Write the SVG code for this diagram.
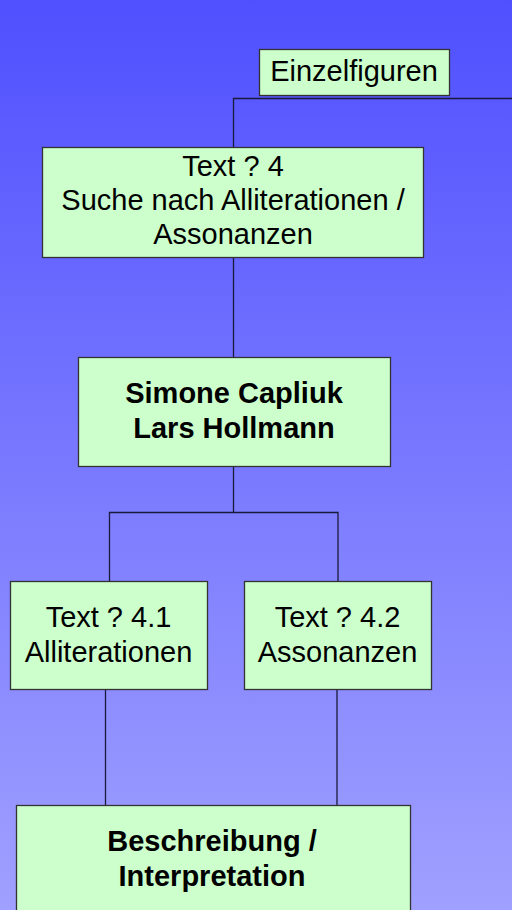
<svg xmlns="http://www.w3.org/2000/svg" width="512" height="910" viewBox="0 0 512 910">
<defs>
<linearGradient id="bg" x1="0" y1="0" x2="0" y2="1">
<stop offset="0" stop-color="#5050FF"/>
<stop offset="1" stop-color="#A0A0FF"/>
</linearGradient>
<style>
.box{fill:#CCFFCC;stroke:#333333;stroke-width:1.3}
.t{font-family:"Liberation Sans",Arial,sans-serif;font-size:29px;fill:#000;text-anchor:middle}
.b{font-weight:bold}
.c{fill:none;stroke:#1a1a3a;stroke-width:1.3}
</style>
</defs>
<rect width="512" height="910" fill="url(#bg)"/>
<g id="connectors">
<path class="c" d="M233.5 147 V98.5 H513"/>
<path class="c" d="M233.5 257 V357"/>
<path class="c" d="M233.5 466 V512.5"/>
<path class="c" d="M109.5 581 V512.5 H338 V581"/>
<path class="c" d="M105.5 690 V805"/>
<path class="c" d="M337 690 V805"/>
</g>
<g id="einzelfiguren">
<rect class="box" x="259.5" y="49.5" width="190" height="46"/>
<text class="t" x="354" y="81">Einzelfiguren</text>
</g>
<g id="text4">
<rect class="box" x="42.5" y="147.5" width="381" height="110"/>
<text class="t" x="233" y="176">Text ? 4</text>
<text class="t" x="233" y="210">Suche nach Alliterationen /</text>
<text class="t" x="233" y="244">Assonanzen</text>
</g>
<g id="authors">
<rect class="box" x="78.5" y="357.5" width="312" height="109"/>
<text class="t b" x="234" y="403">Simone Capliuk</text>
<text class="t b" x="234" y="438">Lars Hollmann</text>
</g>
<g id="text41">
<rect class="box" x="10.5" y="581.5" width="197" height="108"/>
<text class="t" x="108.5" y="627">Text ? 4.1</text>
<text class="t" x="108.5" y="662">Alliterationen</text>
</g>
<g id="text42">
<rect class="box" x="244.5" y="581.5" width="187" height="108"/>
<text class="t" x="337.5" y="627">Text ? 4.2</text>
<text class="t" x="337.5" y="662">Assonanzen</text>
</g>
<g id="interpretation">
<rect class="box" x="16.5" y="805.5" width="394" height="120"/>
<text class="t b" x="212" y="851">Beschreibung /</text>
<text class="t b" x="212" y="886">Interpretation</text>
</g>
</svg>
